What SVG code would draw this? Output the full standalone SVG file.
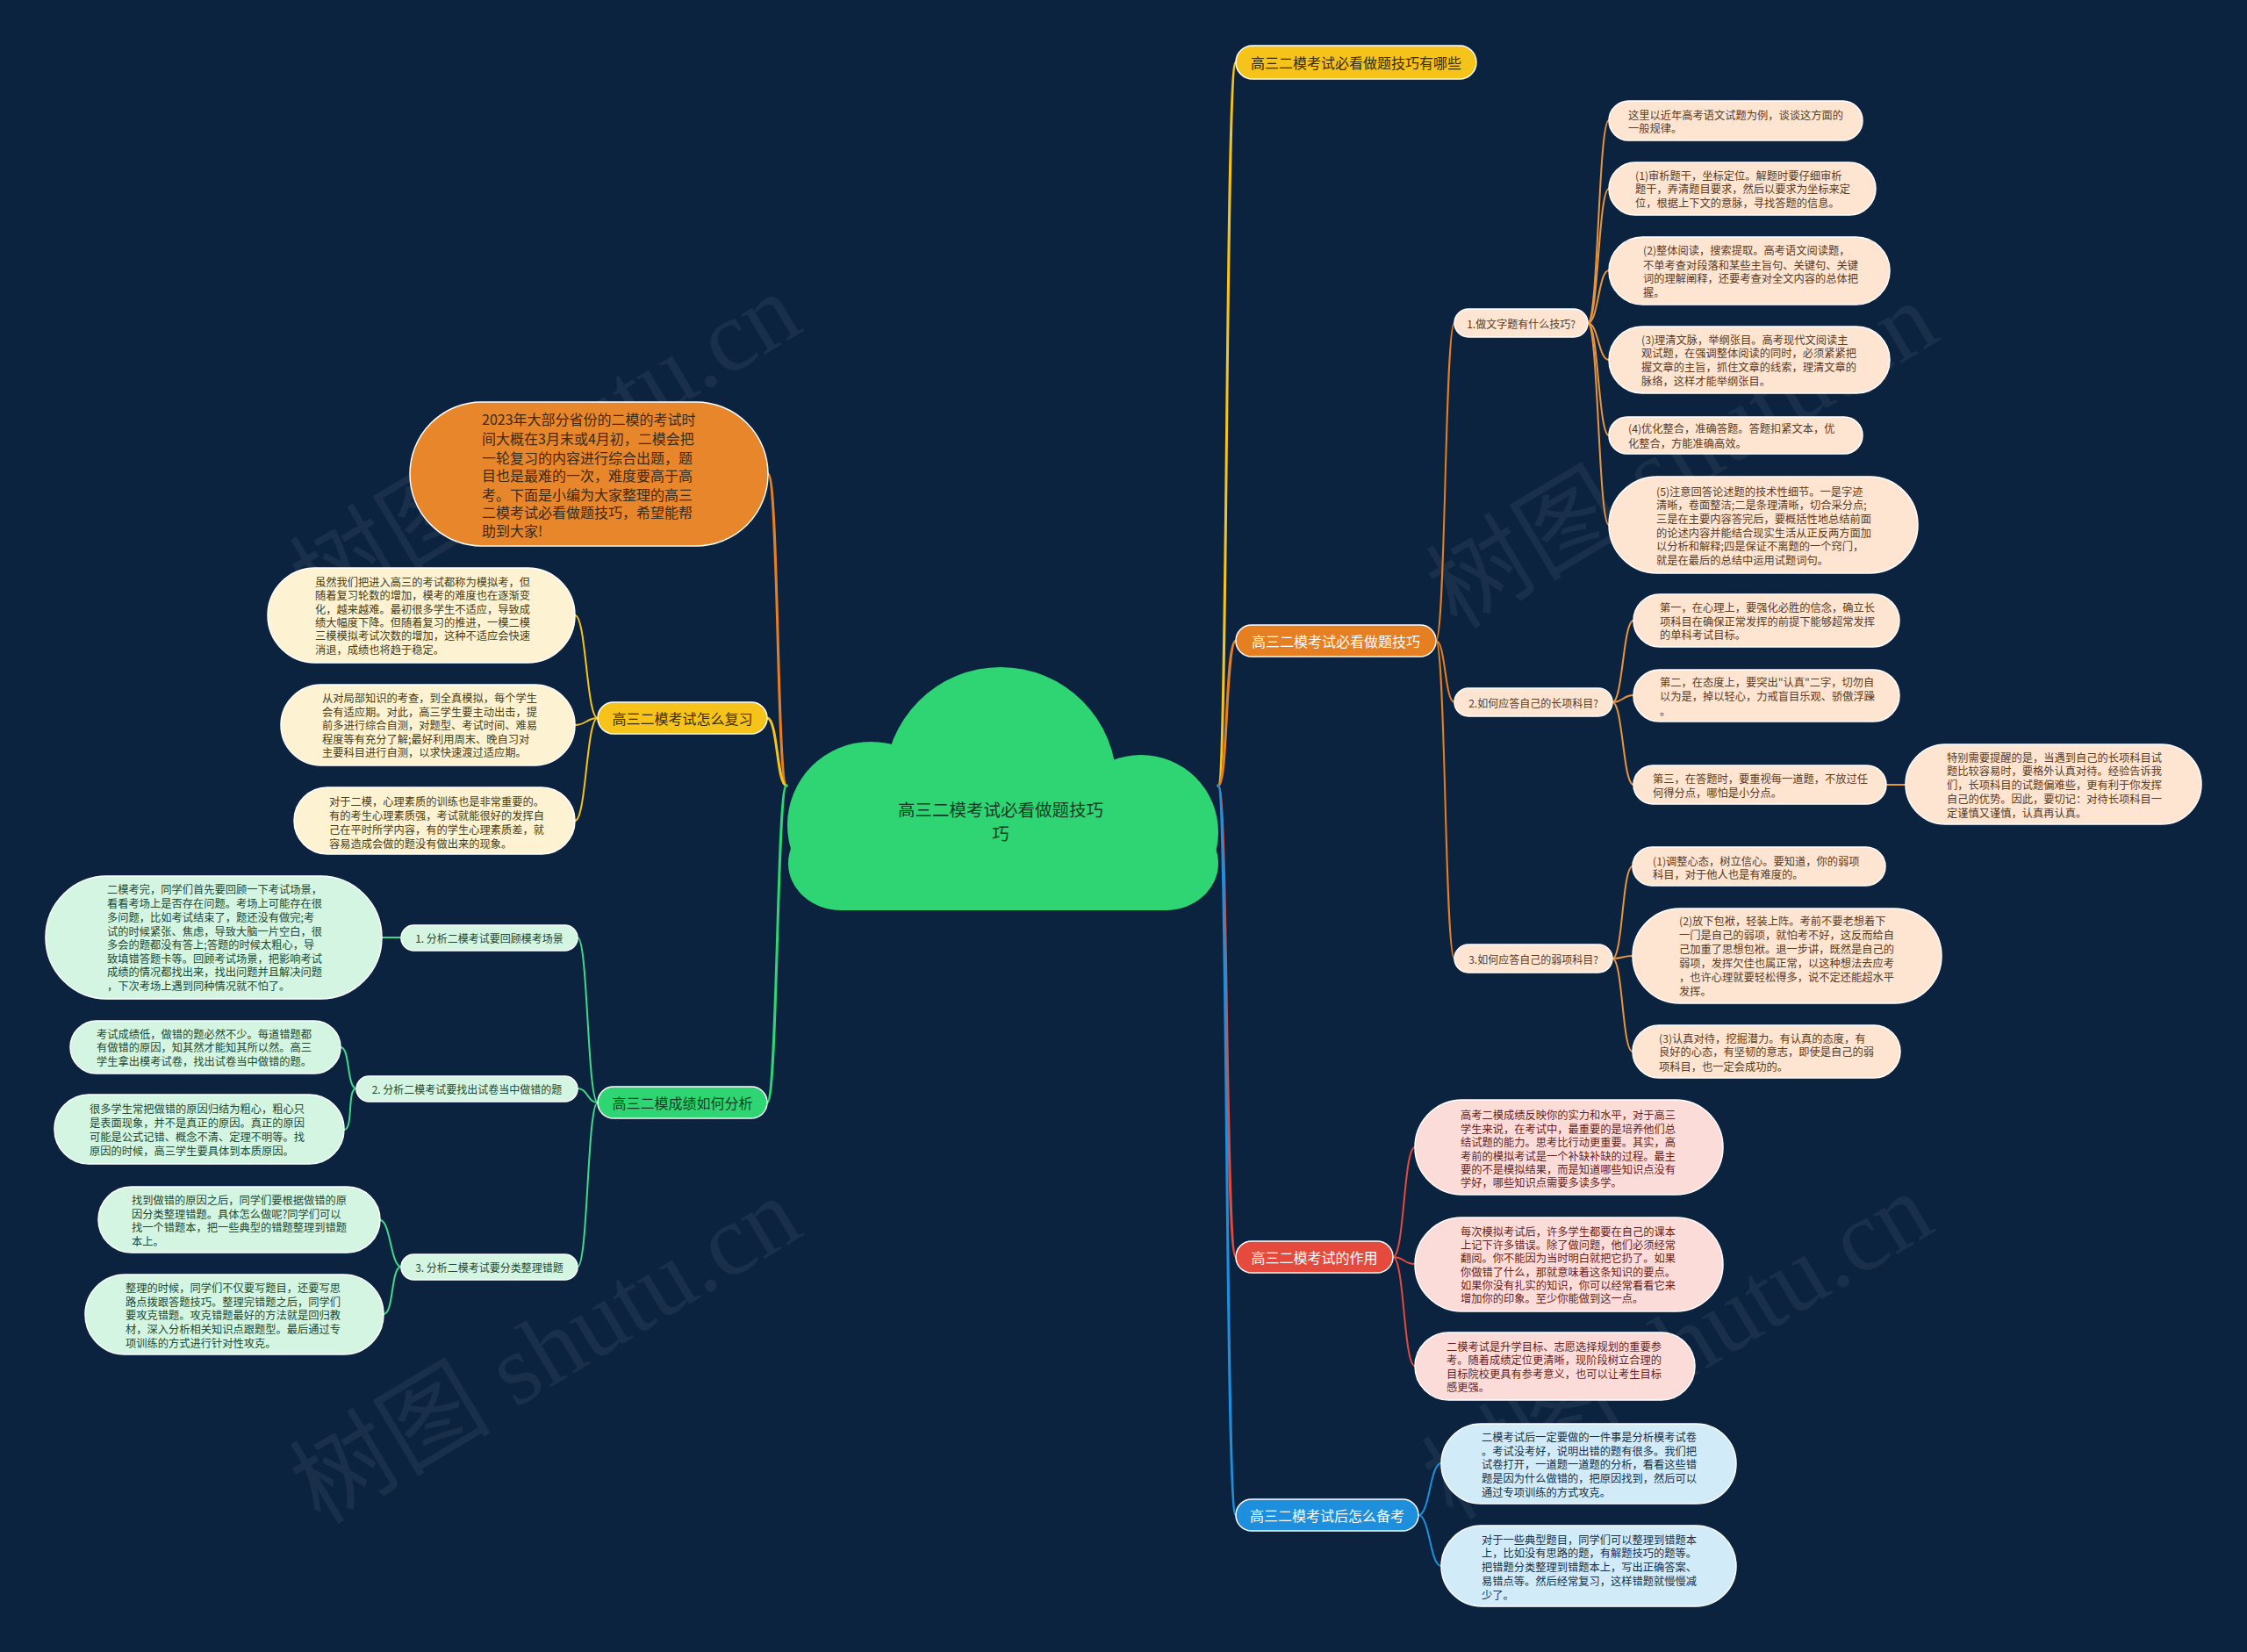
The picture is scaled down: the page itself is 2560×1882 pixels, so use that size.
<svg xmlns="http://www.w3.org/2000/svg" width="2560" height="1882" viewBox="0 0 2560 1882">
<defs>
<style>
text{font-family:"Noto Sans CJK SC","Noto Sans",sans-serif;dominant-baseline:central}
.lf{font-size:12.25px}
.sb{font-size:12px}
.mn{font-size:16px;text-anchor:middle}
.c{fill:none;stroke-linecap:round}
.pk{stroke:#ffffff;stroke-width:1.5}
.wm{font-family:"Liberation Serif","Noto Sans CJK SC",serif;font-size:115px;fill:#9aa3ad;opacity:0.09}
</style>
</defs>
<rect x="0" y="0" width="2560" height="1882" fill="#0c2340"/>

<g id="watermarks">
<text class="wm" x="345" y="675" transform="rotate(-31 345 675)">树图 shutu.cn</text>
<text class="wm" x="1640" y="685" transform="rotate(-31 1640 685)">树图 shutu.cn</text>
<text class="wm" x="345" y="1705" transform="rotate(-31 345 1705)">树图 shutu.cn</text>
<text class="wm" x="1635" y="1700" transform="rotate(-31 1635 1700)">树图 shutu.cn</text>
</g>

<g id="connectors">
<path class="c" stroke="#f5c319" stroke-width="3" d="M1388,895 C1399,895 1396,71 1408,71"/>
<path class="c" stroke="#e67e22" stroke-width="3" d="M1388,895 C1399,895 1396,730 1408,730"/>
<path class="c" stroke="#e54b3c" stroke-width="3" d="M1388,895 C1399,895 1396,1432 1408,1432"/>
<path class="c" stroke="#1e8fdc" stroke-width="3" d="M1388,895 C1399,895 1396,1726 1408,1726"/>
<path class="c" stroke="#e67e22" stroke-width="3" d="M896,895 C885,895 887,540 875,540"/>
<path class="c" stroke="#f5c319" stroke-width="3" d="M896,895 C885,895 886,818 874,818"/>
<path class="c" stroke="#2fd573" stroke-width="3" d="M896,895 C885,895 886,1256 874,1256"/>
<path class="c" stroke="#e67e22" stroke-width="2" d="M1636,730 C1647,730 1646,368 1657,368"/>
<path class="c" stroke="#e67e22" stroke-width="2" d="M1636,730 C1647,730 1646,800 1657,800"/>
<path class="c" stroke="#e67e22" stroke-width="2" d="M1636,730 C1647,730 1646,1092 1657,1092"/>
<path class="c" stroke="#e8953e" stroke-width="2" d="M1809,368 C1821,368 1821,137 1833,137"/>
<path class="c" stroke="#e8953e" stroke-width="2" d="M1809,368 C1821,368 1821,215 1833,215"/>
<path class="c" stroke="#e8953e" stroke-width="2" d="M1809,368 C1821,368 1821,308 1833,308"/>
<path class="c" stroke="#e8953e" stroke-width="2" d="M1809,368 C1821,368 1821,410 1833,410"/>
<path class="c" stroke="#e8953e" stroke-width="2" d="M1809,368 C1821,368 1821,496 1833,496"/>
<path class="c" stroke="#e8953e" stroke-width="2" d="M1809,368 C1821,368 1821,598 1833,598"/>
<path class="c" stroke="#e8953e" stroke-width="2" d="M1837,800 C1849,800 1849,707 1861,707"/>
<path class="c" stroke="#e8953e" stroke-width="2" d="M1837,800 C1849,800 1849,792 1861,792"/>
<path class="c" stroke="#e8953e" stroke-width="2" d="M1837,800 C1849,800 1849,894 1861,894"/>
<path class="c" stroke="#e8953e" stroke-width="2" d="M2149,894 L2171,894"/>
<path class="c" stroke="#e8953e" stroke-width="2" d="M1837,1092 C1849,1092 1848,987 1860,987"/>
<path class="c" stroke="#e8953e" stroke-width="2" d="M1837,1092 C1849,1092 1848,1089 1860,1089"/>
<path class="c" stroke="#e8953e" stroke-width="2" d="M1837,1092 C1849,1092 1848,1198 1860,1198"/>
<path class="c" stroke="#e54b3c" stroke-width="2" d="M1587,1432 C1600,1432 1599,1307 1612,1307"/>
<path class="c" stroke="#e54b3c" stroke-width="2" d="M1587,1432 C1600,1432 1599,1440 1612,1440"/>
<path class="c" stroke="#e54b3c" stroke-width="2" d="M1587,1432 C1600,1432 1599,1556 1612,1556"/>
<path class="c" stroke="#1e8fdc" stroke-width="2" d="M1616,1726 C1629,1726 1629,1667 1642,1667"/>
<path class="c" stroke="#1e8fdc" stroke-width="2" d="M1616,1726 C1629,1726 1629,1784 1642,1784"/>
<path class="c" stroke="#f5c319" stroke-width="2" d="M681,818 C668,818 668,701 655,701"/>
<path class="c" stroke="#f5c319" stroke-width="2" d="M681,818 C668,818 668,826 655,826"/>
<path class="c" stroke="#f5c319" stroke-width="2" d="M681,818 C668,818 668,935 655,935"/>
<path class="c" stroke="#3fd98a" stroke-width="2" d="M681,1256 C669,1256 670,1068 658,1068"/>
<path class="c" stroke="#3fd98a" stroke-width="2" d="M681,1256 C669,1256 670,1240 658,1240"/>
<path class="c" stroke="#3fd98a" stroke-width="2" d="M681,1256 C669,1256 670,1443 658,1443"/>
<path class="c" stroke="#3fd98a" stroke-width="2" d="M457,1068 L435,1068"/>
<path class="c" stroke="#3fd98a" stroke-width="2" d="M406,1240 C395,1240 399,1193 388,1193"/>
<path class="c" stroke="#3fd98a" stroke-width="2" d="M406,1240 C395,1240 403,1287 392,1287"/>
<path class="c" stroke="#3fd98a" stroke-width="2" d="M457,1443 C445,1443 445,1390 433,1390"/>
<path class="c" stroke="#3fd98a" stroke-width="2" d="M457,1443 C445,1443 449,1497 437,1497"/>
</g>

<g id="center">
<circle cx="1140" cy="892" r="132" fill="#2fd573"/>
<circle cx="992" cy="940" r="95" fill="#2fd573"/>
<circle cx="1300" cy="948" r="88" fill="#2fd573"/>
<rect x="898" y="930" width="490" height="107" rx="60" fill="#2fd573"/>
<text x="1140" y="921" font-size="19.5" fill="#123d24" text-anchor="middle">高三二模考试必看做题技巧</text>
<text x="1140" y="948" font-size="19.5" fill="#123d24" text-anchor="middle">巧</text>
</g>

<g id="m-youxie">
<rect x="1408" y="52" width="274" height="38" rx="19" fill="#f5c319" class="pk"/>
<text class="mn" x="1545" y="71" fill="#3a2d00">高三二模考试必看做题技巧有哪些</text>
</g>
<g id="m-jiqiao">
<rect x="1408" y="712" width="228" height="36" rx="18" fill="#e67e22" class="pk"/>
<text class="mn" x="1522" y="730" fill="#ffffff">高三二模考试必看做题技巧</text>
</g>
<g id="m-zuoyong">
<rect x="1408" y="1414" width="179" height="36" rx="18" fill="#e54b3c" class="pk"/>
<text class="mn" x="1497.5" y="1432" fill="#ffffff">高三二模考试的作用</text>
</g>
<g id="m-beikao">
<rect x="1408" y="1708" width="208" height="36" rx="18" fill="#1e8fdc" class="pk"/>
<text class="mn" x="1512" y="1726" fill="#ffffff">高三二模考试后怎么备考</text>
</g>

<g id="s-1">
<rect x="1657" y="352" width="152" height="32" rx="16" fill="#fde5d2" class="pk"/>
<text class="sb" x="1733" y="368" text-anchor="middle" fill="#5c3b1e">1.做文字题有什么技巧?</text>
</g>
<g id="s-2">
<rect x="1657" y="784" width="180" height="32" rx="16" fill="#fde5d2" class="pk"/>
<text class="sb" x="1747" y="800" text-anchor="middle" fill="#5c3b1e">2.如何应答自己的长项科目?</text>
</g>
<g id="s-3">
<rect x="1657" y="1076" width="180" height="32" rx="16" fill="#fde5d2" class="pk"/>
<text class="sb" x="1747" y="1092" text-anchor="middle" fill="#5c3b1e">3.如何应答自己的弱项科目?</text>
</g>

<g id="l-1-1" fill="#5c3b1e">
<rect x="1833" y="115" width="289" height="45" rx="22.5" fill="#fde5d2" class="pk"/>
<text class="lf" x="1855" y="131">这里以近年高考语文试题为例，谈谈这方面的</text>
<text class="lf" x="1855" y="146">一般规律。</text>
</g>
<g id="l-1-2" fill="#5c3b1e">
<rect x="1833" y="185" width="304" height="60" rx="30" fill="#fde5d2" class="pk"/>
<text class="lf" x="1863" y="200">(1)审析题干，坐标定位。解题时要仔细审析</text>
<text class="lf" x="1863" y="215">题干，弄清题目要求，然后以要求为坐标来定</text>
<text class="lf" x="1863" y="231">位，根据上下文的意脉，寻找答题的信息。</text>
</g>
<g id="l-1-3" fill="#5c3b1e">
<rect x="1833" y="270" width="320" height="77" rx="38.5" fill="#fde5d2" class="pk"/>
<text class="lf" x="1872" y="285">(2)整体阅读，搜索提取。高考语文阅读题，</text>
<text class="lf" x="1872" y="302">不单考查对段落和某些主旨句、关键句、关键</text>
<text class="lf" x="1872" y="317">词的理解阐释，还要考查对全文内容的总体把</text>
<text class="lf" x="1872" y="333">握。</text>
</g>
<g id="l-1-4" fill="#5c3b1e">
<rect x="1833" y="372" width="320" height="76" rx="38" fill="#fde5d2" class="pk"/>
<text class="lf" x="1870" y="387">(3)理清文脉，举纲张目。高考现代文阅读主</text>
<text class="lf" x="1870" y="402">观试题，在强调整体阅读的同时，必须紧紧把</text>
<text class="lf" x="1870" y="418">握文章的主旨，抓住文章的线索，理清文章的</text>
<text class="lf" x="1870" y="434">脉络，这样才能举纲张目。</text>
</g>
<g id="l-1-5" fill="#5c3b1e">
<rect x="1833" y="475" width="289" height="42" rx="21" fill="#fde5d2" class="pk"/>
<text class="lf" x="1855" y="488">(4)优化整合，准确答题。答题扣紧文本，优</text>
<text class="lf" x="1855" y="505">化整合，方能准确高效。</text>
</g>
<g id="l-1-6" fill="#5c3b1e">
<rect x="1833" y="543" width="352" height="110" rx="55" fill="#fde5d2" class="pk"/>
<text class="lf" x="1887" y="560">(5)注意回答论述题的技术性细节。一是字迹</text>
<text class="lf" x="1887" y="575">清晰，卷面整洁;二是条理清晰，切合采分点;</text>
<text class="lf" x="1887" y="591">三是在主要内容答完后，要概括性地总结前面</text>
<text class="lf" x="1887" y="607">的论述内容并能结合现实生活从正反两方面加</text>
<text class="lf" x="1887" y="622">以分析和解释;四是保证不离题的一个窍门，</text>
<text class="lf" x="1887" y="638">就是在最后的总结中运用试题词句。</text>
</g>

<g id="l-2-1" fill="#5c3b1e">
<rect x="1861" y="677" width="303" height="60" rx="30" fill="#fde5d2" class="pk"/>
<text class="lf" x="1891" y="692">第一，在心理上，要强化必胜的信念，确立长</text>
<text class="lf" x="1891" y="708">项科目在确保正常发挥的前提下能够超常发挥</text>
<text class="lf" x="1891" y="723">的单科考试目标。</text>
</g>
<g id="l-2-2" fill="#5c3b1e">
<rect x="1861" y="763" width="303" height="59" rx="29.5" fill="#fde5d2" class="pk"/>
<text class="lf" x="1891" y="777">第二，在态度上，要突出"认真"二字，切勿自</text>
<text class="lf" x="1891" y="793">以为是，掉以轻心，力戒盲目乐观、骄傲浮躁</text>
<text class="lf" x="1891" y="810">。</text>
</g>
<g id="l-2-3" fill="#5c3b1e">
<rect x="1861" y="872" width="288" height="44" rx="22" fill="#fde5d2" class="pk"/>
<text class="lf" x="1883" y="887">第三，在答题时，要重视每一道题，不放过任</text>
<text class="lf" x="1883" y="903">何得分点，哪怕是小分点。</text>
</g>
<g id="l-2-4" fill="#5c3b1e">
<rect x="2171" y="848" width="337" height="91" rx="45.5" fill="#fde5d2" class="pk"/>
<text class="lf" x="2218" y="863">特别需要提醒的是，当遇到自己的长项科目试</text>
<text class="lf" x="2218" y="878">题比较容易时，要格外认真对待。经验告诉我</text>
<text class="lf" x="2218" y="894">们，长项科目的试题偏难些，更有利于你发挥</text>
<text class="lf" x="2218" y="910">自己的优势。因此，要切记：对待长项科目一</text>
<text class="lf" x="2218" y="926">定谨慎又谨慎，认真再认真。</text>
</g>

<g id="l-3-1" fill="#5c3b1e">
<rect x="1860" y="965" width="288" height="44" rx="22" fill="#fde5d2" class="pk"/>
<text class="lf" x="1883" y="981">(1)调整心态，树立信心。要知道，你的弱项</text>
<text class="lf" x="1883" y="996">科目，对于他人也是有难度的。</text>
</g>
<g id="l-3-2" fill="#5c3b1e">
<rect x="1860" y="1035" width="352" height="108" rx="54" fill="#fde5d2" class="pk"/>
<text class="lf" x="1913" y="1049">(2)放下包袱，轻装上阵。考前不要老想着下</text>
<text class="lf" x="1913" y="1065">一门是自己的弱项，就怕考不好，这反而给自</text>
<text class="lf" x="1913" y="1081">己加重了思想包袱。退一步讲，既然是自己的</text>
<text class="lf" x="1913" y="1097">弱项，发挥欠佳也属正常，以这种想法去应考</text>
<text class="lf" x="1913" y="1113">，也许心理就要轻松得多，说不定还能超水平</text>
<text class="lf" x="1913" y="1129">发挥。</text>
</g>
<g id="l-3-3" fill="#5c3b1e">
<rect x="1860" y="1168" width="305" height="60" rx="30" fill="#fde5d2" class="pk"/>
<text class="lf" x="1890" y="1183">(3)认真对待，挖掘潜力。有认真的态度，有</text>
<text class="lf" x="1890" y="1198">良好的心态，有坚韧的意志，即使是自己的弱</text>
<text class="lf" x="1890" y="1215">项科目，也一定会成功的。</text>
</g>

<g id="l-r-1" fill="#6b1f1a">
<rect x="1612" y="1253" width="351" height="108" rx="54" fill="#fcdcd9" class="pk"/>
<text class="lf" x="1664" y="1270">高考二模成绩反映你的实力和水平，对于高三</text>
<text class="lf" x="1664" y="1286">学生来说，在考试中，最重要的是培养他们总</text>
<text class="lf" x="1664" y="1301">结试题的能力。思考比行动更重要。其实，高</text>
<text class="lf" x="1664" y="1317">考前的模拟考试是一个补缺补缺的过程。最主</text>
<text class="lf" x="1664" y="1332">要的不是模拟结果，而是知道哪些知识点没有</text>
<text class="lf" x="1664" y="1347">学好，哪些知识点需要多读多学。</text>
</g>
<g id="l-r-2" fill="#6b1f1a">
<rect x="1612" y="1387" width="351" height="107" rx="53.5" fill="#fcdcd9" class="pk"/>
<text class="lf" x="1664" y="1403">每次模拟考试后，许多学生都要在自己的课本</text>
<text class="lf" x="1664" y="1418">上记下许多错误。除了做问题，他们必须经常</text>
<text class="lf" x="1664" y="1433">翻阅。你不能因为当时明白就把它扔了。如果</text>
<text class="lf" x="1664" y="1449">你做错了什么，那就意味着这条知识的要点。</text>
<text class="lf" x="1664" y="1464">如果你没有扎实的知识，你可以经常看看它来</text>
<text class="lf" x="1664" y="1479">增加你的印象。至少你能做到这一点。</text>
</g>
<g id="l-r-3" fill="#6b1f1a">
<rect x="1612" y="1518" width="319" height="77" rx="38.5" fill="#fcdcd9" class="pk"/>
<text class="lf" x="1648" y="1534">二模考试是升学目标、志愿选择规划的重要参</text>
<text class="lf" x="1648" y="1549">考。随着成绩定位更清晰，现阶段树立合理的</text>
<text class="lf" x="1648" y="1565">目标院校更具有参考意义，也可以让考生目标</text>
<text class="lf" x="1648" y="1580">感更强。</text>
</g>

<g id="l-b-1" fill="#16324a">
<rect x="1642" y="1622" width="336" height="91" rx="45.5" fill="#d2ebf9" class="pk"/>
<text class="lf" x="1688" y="1637">二模考试后一定要做的一件事是分析模考试卷</text>
<text class="lf" x="1688" y="1653">。考试没考好，说明出错的题有很多。我们把</text>
<text class="lf" x="1688" y="1668">试卷打开，一道题一道题的分析，看看这些错</text>
<text class="lf" x="1688" y="1684">题是因为什么做错的，把原因找到，然后可以</text>
<text class="lf" x="1688" y="1700">通过专项训练的方式攻克。</text>
</g>
<g id="l-b-2" fill="#16324a">
<rect x="1642" y="1738" width="336" height="92" rx="46" fill="#d2ebf9" class="pk"/>
<text class="lf" x="1688" y="1754">对于一些典型题目，同学们可以整理到错题本</text>
<text class="lf" x="1688" y="1769">上，比如没有思路的题，有解题技巧的题等。</text>
<text class="lf" x="1688" y="1785">把错题分类整理到错题本上，写出正确答案、</text>
<text class="lf" x="1688" y="1801">易错点等。然后经常复习，这样错题就慢慢减</text>
<text class="lf" x="1688" y="1817">少了。</text>
</g>

<g id="intro" fill="#3b2a14">
<rect x="467" y="458" width="408" height="164" rx="82" fill="#e8862b" class="pk"/>
<text x="549" y="477" font-size="16">2023年大部分省份的二模的考试时</text>
<text x="549" y="499" font-size="16">间大概在3月末或4月初，二模会把</text>
<text x="549" y="521" font-size="16">一轮复习的内容进行综合出题，题</text>
<text x="549" y="541" font-size="16">目也是最难的一次，难度要高于高</text>
<text x="549" y="563" font-size="16">考。下面是小编为大家整理的高三</text>
<text x="549" y="583" font-size="16">二模考试必看做题技巧，希望能帮</text>
<text x="549" y="604" font-size="16">助到大家!</text>
</g>

<g id="m-fuxi">
<rect x="681" y="800" width="193" height="36" rx="18" fill="#f5c319" class="pk"/>
<text class="mn" x="777.5" y="818" fill="#3a2d00">高三二模考试怎么复习</text>
</g>
<g id="m-fenxi">
<rect x="681" y="1238" width="193" height="36" rx="18" fill="#2fd573" class="pk"/>
<text class="mn" x="777.5" y="1256" fill="#123d24">高三二模成绩如何分析</text>
</g>

<g id="l-y-1" fill="#4a3d14">
<rect x="305" y="647" width="350" height="108" rx="54" fill="#fdf3d3" class="pk"/>
<text class="lf" x="359" y="663">虽然我们把进入高三的考试都称为模拟考，但</text>
<text class="lf" x="359" y="678">随着复习轮数的增加，模考的难度也在逐渐变</text>
<text class="lf" x="359" y="694">化，越来越难。最初很多学生不适应，导致成</text>
<text class="lf" x="359" y="709">绩大幅度下降。但随着复习的推进，一模二模</text>
<text class="lf" x="359" y="724">三模模拟考试次数的增加，这种不适应会快速</text>
<text class="lf" x="359" y="740">消退，成绩也将趋于稳定。</text>
</g>
<g id="l-y-2" fill="#4a3d14">
<rect x="320" y="780" width="335" height="92" rx="46" fill="#fdf3d3" class="pk"/>
<text class="lf" x="367" y="795">从对局部知识的考查，到全真模拟，每个学生</text>
<text class="lf" x="367" y="811">会有适应期。对此，高三学生要主动出击，提</text>
<text class="lf" x="367" y="826">前多进行综合自测，对题型、考试时间、难易</text>
<text class="lf" x="367" y="842">程度等有充分了解;最好利用周末、晚自习对</text>
<text class="lf" x="367" y="857">主要科目进行自测，以求快速渡过适应期。</text>
</g>
<g id="l-y-3" fill="#4a3d14">
<rect x="335" y="897" width="320" height="76" rx="38" fill="#fdf3d3" class="pk"/>
<text class="lf" x="375" y="913">对于二模，心理素质的训练也是非常重要的。</text>
<text class="lf" x="375" y="929">有的考生心理素质强，考试就能很好的发挥自</text>
<text class="lf" x="375" y="945">己在平时所学内容，有的学生心理素质差，就</text>
<text class="lf" x="375" y="961">容易造成会做的题没有做出来的现象。</text>
</g>

<g id="s-g-1">
<rect x="457" y="1054" width="201" height="29" rx="14.5" fill="#d3f5e2" class="pk"/>
<text class="sb" x="557.5" y="1068" text-anchor="middle" fill="#1f4a33">1. 分析二模考试要回顾模考场景</text>
</g>
<g id="s-g-2">
<rect x="406" y="1226" width="252" height="29" rx="14.5" fill="#d3f5e2" class="pk"/>
<text class="sb" x="532" y="1240" text-anchor="middle" fill="#1f4a33">2. 分析二模考试要找出试卷当中做错的题</text>
</g>
<g id="s-g-3">
<rect x="457" y="1429" width="201" height="29" rx="14.5" fill="#d3f5e2" class="pk"/>
<text class="sb" x="557.5" y="1443" text-anchor="middle" fill="#1f4a33">3. 分析二模考试要分类整理错题</text>
</g>

<g id="l-g-1" fill="#1f4a33">
<rect x="52" y="998" width="383" height="140" rx="70" fill="#d3f5e2" class="pk"/>
<text class="lf" x="122" y="1013">二模考完，同学们首先要回顾一下考试场景，</text>
<text class="lf" x="122" y="1029">看看考场上是否存在问题。考场上可能存在很</text>
<text class="lf" x="122" y="1045">多问题，比如考试结束了，题还没有做完;考</text>
<text class="lf" x="122" y="1061">试的时候紧张、焦虑，导致大脑一片空白，很</text>
<text class="lf" x="122" y="1076">多会的题都没有答上;答题的时候太粗心，导</text>
<text class="lf" x="122" y="1092">致填错答题卡等。回顾考试场景，把影响考试</text>
<text class="lf" x="122" y="1107">成绩的情况都找出来，找出问题并且解决问题</text>
<text class="lf" x="122" y="1123">，下次考场上遇到同种情况就不怕了。</text>
</g>
<g id="l-g-2" fill="#1f4a33">
<rect x="80" y="1163" width="308" height="60" rx="30" fill="#d3f5e2" class="pk"/>
<text class="lf" x="110" y="1178">考试成绩低，做错的题必然不少。每道错题都</text>
<text class="lf" x="110" y="1193">有做错的原因，知其然才能知其所以然。高三</text>
<text class="lf" x="110" y="1209">学生拿出模考试卷，找出试卷当中做错的题。</text>
</g>
<g id="l-g-3" fill="#1f4a33">
<rect x="62" y="1247" width="330" height="79" rx="39.5" fill="#d3f5e2" class="pk"/>
<text class="lf" x="102" y="1263">很多学生常把做错的原因归结为粗心，粗心只</text>
<text class="lf" x="102" y="1279">是表面现象，并不是真正的原因。真正的原因</text>
<text class="lf" x="102" y="1295">可能是公式记错、概念不清、定理不明等。找</text>
<text class="lf" x="102" y="1311">原因的时候，高三学生要具体到本质原因。</text>
</g>
<g id="l-g-4" fill="#1f4a33">
<rect x="112" y="1352" width="321" height="75" rx="37.5" fill="#d3f5e2" class="pk"/>
<text class="lf" x="150" y="1367">找到做错的原因之后，同学们要根据做错的原</text>
<text class="lf" x="150" y="1383">因分类整理错题。具体怎么做呢?同学们可以</text>
<text class="lf" x="150" y="1398">找一个错题本，把一些典型的错题整理到错题</text>
<text class="lf" x="150" y="1414">本上。</text>
</g>
<g id="l-g-5" fill="#1f4a33">
<rect x="97" y="1452" width="340" height="91" rx="45.5" fill="#d3f5e2" class="pk"/>
<text class="lf" x="143" y="1467">整理的时候，同学们不仅要写题目，还要写思</text>
<text class="lf" x="143" y="1483">路点拨跟答题技巧。整理完错题之后，同学们</text>
<text class="lf" x="143" y="1498">要攻克错题。攻克错题最好的方法就是回归教</text>
<text class="lf" x="143" y="1514">材，深入分析相关知识点跟题型。最后通过专</text>
<text class="lf" x="143" y="1530">项训练的方式进行针对性攻克。</text>
</g>
</svg>
